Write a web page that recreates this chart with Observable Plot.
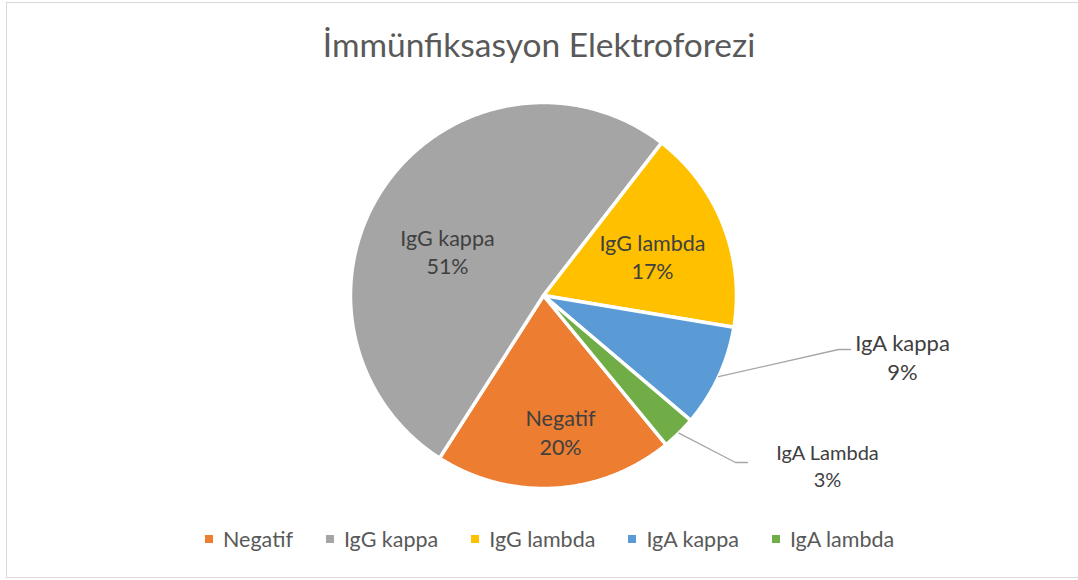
<!DOCTYPE html>
<html>
<head>
<meta charset="utf-8">
<script src="https://cdn.jsdelivr.net/npm/d3@7"></script>
<script src="https://cdn.jsdelivr.net/npm/@observablehq/plot@0.6"></script>
<style>
  body { margin: 0; background: #fff; }
  #wrap { position: relative; width: 1078px; height: 580px; overflow: hidden; font-family: Lato, "Open Sans", sans-serif; }
  #chart { position: absolute; left: 0; top: 0; }
  #chart svg { background: transparent !important; }
  #frame { position: absolute; left: 6px; top: 2px; width: 1090px; height: 576px; border: 1px solid #d9d9d9; box-sizing: border-box; pointer-events: none; }
  #title { position: absolute; left: 0; top: 27px; width: 1078px; text-align: center; font-size: 33.5px; line-height: 34px; color: #595959; }
  #legend { position: absolute; left: 205px; top: 528px; display: flex; align-items: center; font-size: 21.5px; line-height: 22px; color: #595959; white-space: nowrap; }
  .item { display: flex; align-items: center; margin-right: 33px; }
  .sw { width: 8px; height: 8px; margin-right: 10px; }
</style>
</head>
<body>
<div id="wrap">
  <div id="chart"></div>
  <div id="title"></div>
  <div id="legend"></div>
  <div id="frame"></div>
</div>
<script>
// ---- data ----
const titleText = "İmmünfiksasyon Elektroforezi";
const categories = ["Negatif", "IgG kappa", "IgG lambda", "IgA kappa", "IgA lambda"];
const sliceLabels = ["Negatif", "IgG kappa", "IgG lambda", "IgA kappa", "IgA Lambda"];
const counts = [7, 18, 6, 3, 1];
const colors = ["#ED7D31", "#A5A5A5", "#FFC000", "#5B9BD5", "#70AD47"];

// ---- layout (pixels) ----
const W = 1078, H = 580, cx = 543, cy = 295, R = 193;
const startDeg = 140.6;
// label centres relative to pie centre (px), font size, line spacing (px)
const labelLayout = [
  {dx: 17,  dy: 431 - 295,   fs: 21.5, ls: 29},
  {dx: -96, dy: 250.5 - 295, fs: 21.5, ls: 28},
  {dx: 109, dy: 255.5 - 295, fs: 21.5, ls: 28},
  {dx: 359, dy: 355.8 - 295, fs: 22,   ls: 29},
  {dx: 284, dy: 464.5 - 295, fs: 20,   ls: 27}
];
// leader line elbows and ends (px, relative to centre); null = no leader
const leaderLayout = [null, null, null,
  {ex: 838 - cx, ey: 349 - cy, tx: 850 - cx},
  {ex: 735 - cx, ey: 462 - cy, tx: 747 - cx}
];

// ---- build geometry from data ----
const total = d3.sum(counts);
const a0 = startDeg * Math.PI / 180;
const arcs = d3.pie().sort(null).startAngle(a0).endAngle(a0 + 2 * Math.PI)(counts);

const slices = arcs.flatMap((a, i) => {
  const name = categories[i];
  const pts = [{name, x: 0, y: 0}];
  const n = Math.max(4, Math.ceil((a.endAngle - a.startAngle) / (Math.PI / 360)));
  for (let k = 0; k <= n; k++) {
    const t = a.startAngle + (a.endAngle - a.startAngle) * k / n;
    pts.push({name, x: Math.sin(t), y: Math.cos(t)});
  }
  pts.push({name, x: 0, y: 0});
  return pts;
});

const labels = arcs.map((a, i) => ({
  name: categories[i],
  text: sliceLabels[i] + "\n" + Math.round(counts[i] / total * 100) + "%",
  x: labelLayout[i].dx / R,
  y: -labelLayout[i].dy / R,
  fs: labelLayout[i].fs,
  lh: labelLayout[i].ls / labelLayout[i].fs
}));

const leaders = arcs.flatMap((a, i) => {
  const L = leaderLayout[i];
  if (!L) return [];
  const m = (a.startAngle + a.endAngle) / 2;
  return [
    {name: categories[i], x: Math.sin(m), y: Math.cos(m)},
    {name: categories[i], x: L.ex / R, y: -L.ey / R},
    {name: categories[i], x: L.tx / R, y: -L.ey / R}
  ];
});

const textMarks = labels.map(l => Plot.text([l], {
  x: "x", y: "y", text: "text", fill: "#404040", fontSize: l.fs, lineHeight: l.lh,
  fontFamily: "Lato, 'Open Sans', sans-serif", textAnchor: "middle"
}));

const plot = Plot.plot({
  width: W, height: H, margin: 0,
  x: {domain: [-cx / R, (W - cx) / R], axis: null},
  y: {domain: [(cy - H) / R, cy / R], axis: null},
  color: {domain: categories, range: colors},
  marks: [
    Plot.line(slices, {x: "x", y: "y", z: "name", fill: "name", stroke: "white", strokeWidth: 3.5, strokeLinejoin: "round", curve: "linear"}),
    Plot.line(leaders, {x: "x", y: "y", z: "name", stroke: "#A6A6A6", strokeWidth: 1.3, strokeLinejoin: "miter", curve: "linear"}),
    ...textMarks
  ]
});
document.getElementById("chart").appendChild(plot);

document.getElementById("title").textContent = titleText;
const legend = document.getElementById("legend");
categories.forEach((c, i) => {
  const it = document.createElement("div"); it.className = "item";
  const sw = document.createElement("div"); sw.className = "sw"; sw.style.background = colors[i];
  const tx = document.createElement("span"); tx.textContent = c;
  it.appendChild(sw); it.appendChild(tx); legend.appendChild(it);
});
</script>
</body>
</html>
